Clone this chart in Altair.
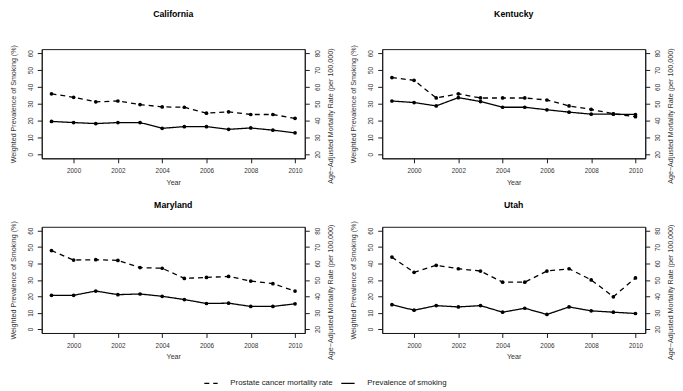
import altair as alt
import pandas as pd

years = list(range(1999, 2011))
x_ticks = [2000, 2002, 2004, 2006, 2008, 2010]
left_ticks = [0, 10, 20, 30, 40, 50, 60]
right_ticks = [20, 30, 40, 50, 60, 70, 80]

SMOKE = "Prevalence of smoking"
MORT = "Prostate cancer mortality rate"

smoking_california = [19.5, 18.8, 18.2, 18.8, 18.8, 15.4, 16.4, 16.4, 14.8, 15.6, 14.3, 12.7]
mortality_california = [55.9, 53.8, 51.1, 51.6, 49.5, 48.1, 47.9, 44.4, 45.2, 43.6, 43.6, 41.3]
smoking_kentucky = [31.6, 30.7, 28.7, 33.6, 31.3, 27.9, 27.9, 26.4, 25.0, 23.8, 23.8, 23.6]
mortality_kentucky = [65.5, 63.9, 53.4, 55.9, 53.4, 53.4, 53.4, 52.2, 48.7, 46.6, 44.0, 42.3]
smoking_maryland = [20.6, 20.6, 23.2, 21.0, 21.4, 20.0, 18.0, 15.6, 15.8, 13.8, 13.8, 15.4]
mortality_maryland = [67.9, 62.1, 62.3, 61.9, 57.5, 57.1, 50.9, 51.5, 52.1, 49.3, 47.7, 43.2]
smoking_utah = [14.9, 11.5, 14.3, 13.5, 14.3, 10.3, 12.7, 8.9, 13.5, 11.1, 10.3, 9.5]
mortality_utah = [63.9, 54.6, 58.9, 56.8, 55.4, 48.6, 48.6, 55.4, 56.8, 50.0, 39.7, 51.2]

FONT = "Liberation Sans"
INK = "#1a1a1a"

dash_scale = alt.Scale(domain=[MORT, SMOKE], range=[[5, 4], [1, 0]])
legend = alt.Legend(
    orient="none", legendX=163, legendY=329, direction="horizontal", title=None,
    symbolType="stroke", symbolSize=180, symbolStrokeWidth=1.2, symbolStrokeColor="black",
    labelFont=FONT, labelFontSize=7.9, labelColor=INK, labelOffset=12, columnPadding=5,
)


def panel(state, smoke, mort, h, title_offset):
    df = pd.DataFrame({
        "Year": years * 2,
        "value": smoke + mort,
        "series": [SMOKE] * len(years) + [MORT] * len(years),
    })
    x = alt.X("Year:Q",
              scale=alt.Scale(domain=[1998.56, 2010.44], nice=False, zero=False),
              axis=alt.Axis(values=x_ticks, format="d", title="Year",
                            labelPadding=5, titlePadding=4, labelFlush=False))
    base = alt.Chart(df).encode(x=x)

    y_left = alt.Y("value:Q",
                   scale=alt.Scale(domain=[-2.4, 62.4], nice=False, zero=False),
                   axis=alt.Axis(orient="left", values=left_ticks,
                                 title="Weighted Prevalence of Smoking (%)",
                                 labelAngle=270, labelAlign="center", labelBaseline="bottom",
                                 labelPadding=4, titlePadding=10, labelFlush=False,
                                 labelOverlap=False))
    y_right = alt.Y("value:Q",
                    scale=alt.Scale(domain=[17.6, 82.4], nice=False, zero=False),
                    axis=alt.Axis(orient="right", values=right_ticks,
                                  title="Age\u2212Adjusted Mortality Rate (per 100,000)",
                                  labelAngle=270, labelAlign="center", labelBaseline="top",
                                  labelPadding=5, titlePadding=6, labelFlush=False,
                                  labelOverlap=False, titleAngle=270, titleBaseline="top",
                                  titleY=h / 2 + 12))

    sm = base.transform_filter(alt.datum.series == SMOKE)
    mo = base.transform_filter(alt.datum.series == MORT)

    smoke_layer = alt.layer(
        sm.mark_line(color="black", strokeWidth=1.3).encode(
            y=y_left, strokeDash=alt.StrokeDash("series:N", scale=dash_scale, legend=legend)),
        sm.mark_point(filled=True, color="black", size=14, opacity=1).encode(y=y_left),
    )
    mort_layer = alt.layer(
        mo.mark_line(color="black", strokeWidth=1.3).encode(
            y=y_right, strokeDash=alt.StrokeDash("series:N", scale=dash_scale, legend=legend)),
        mo.mark_point(filled=True, color="black", size=14, opacity=1).encode(y=y_right),
    )
    return alt.layer(smoke_layer, mort_layer).resolve_scale(y="independent").properties(
        width=265, height=h,
        title=alt.Title(state, frame="group", anchor="middle", offset=title_offset),
    )


row1 = alt.hconcat(
    panel("California", smoking_california, mortality_california, 110, 26),
    panel("Kentucky", smoking_kentucky, mortality_kentucky, 110, 26),
    spacing=14,
)
row2 = alt.hconcat(
    panel("Maryland", smoking_maryland, mortality_maryland, 107, 11),
    panel("Utah", smoking_utah, mortality_utah, 107, 11),
    spacing=14,
)

chart = alt.vconcat(row1, row2, spacing=14).properties(
    padding={"left": 0, "top": 0, "right": 0, "bottom": 0}
).configure_view(
    stroke=INK, strokeWidth=1
).configure_axis(
    grid=False, domainColor=INK, tickColor=INK, tickSize=4.5, domainWidth=1, tickWidth=1,
    labelFont=FONT, labelFontSize=6.4, labelColor="#333",
    titleFont=FONT, titleFontSize=7.2, titleFontWeight="normal", titleColor="#333",
).configure_title(
    font=FONT, fontSize=8.8, fontWeight="bold", color="black"
)

chart.save("out.html", embed_options={"renderer": "svg", "actions": False})
